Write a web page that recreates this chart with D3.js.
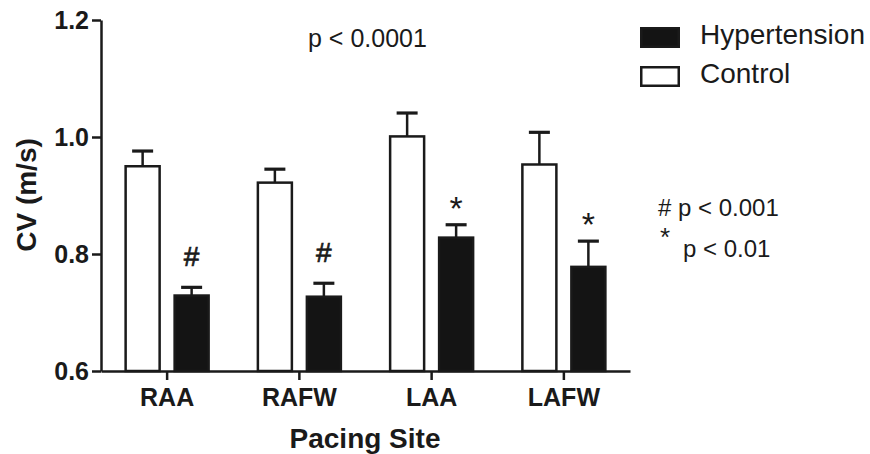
<!DOCTYPE html>
<html>
<head>
<meta charset="utf-8">
<script src="https://cdn.jsdelivr.net/npm/d3@7"></script>
<style>
  html, body { margin: 0; padding: 0; background: #fff; }
  svg { display: block; font-family: "Liberation Sans", Arial, Helvetica, sans-serif; }
</style>
</head>
<body>
<svg id="chart" width="870" height="454"></svg>
<script>
// Conduction velocity by pacing site
const categories = ["RAA", "RAFW", "LAA", "LAFW"];
const seriesNames = ["Control", "Hypertension"];
const controlMean = [0.950, 0.922, 1.001, 0.953];
const controlErr  = [0.026, 0.023, 0.040, 0.055];
const hyperMean   = [0.729, 0.727, 0.828, 0.778];
const hyperErr    = [0.014, 0.023, 0.022, 0.044];
const sigMarks    = ["#", "#", "*", "*"];
const yTicks      = [0.6, 0.8, 1.0, 1.2];
const legendItems = ["Hypertension", "Control"];

const ink = "#1a1a1a";
const svg = d3.select("#chart");

const x = d3.scaleBand().domain(categories).range([101, 630]).padding(0);
const sub = d3.scaleBand().domain(seriesNames).range([-41.5, 41.5])
  .paddingInner(0.306).paddingOuter(0);
const y = d3.scaleLinear().domain([0.6, 1.2]).range([371, 20]);

const rows = categories.map((c, i) => ({
  cat: c,
  bars: [
    { s: "Control", v: controlMean[i], e: controlErr[i] },
    { s: "Hypertension", v: hyperMean[i], e: hyperErr[i], mark: sigMarks[i] }
  ]
}));

// bars
const groups = svg.selectAll("g.grp").data(rows).join("g")
  .attr("class", "grp")
  .attr("transform", d => `translate(${x(d.cat) + x.bandwidth() / 2},0)`);

const bar = groups.selectAll("g.bar").data(d => d.bars).join("g").attr("class", "bar");
const mid = d => sub(d.s) + sub.bandwidth() / 2;

// error bars (upper only)
bar.append("line")
  .attr("x1", mid).attr("x2", mid)
  .attr("y1", d => y(d.v))
  .attr("y2", d => y(d.v + d.e))
  .attr("stroke", ink).attr("stroke-width", 2.5);
bar.append("line")
  .attr("x1", d => mid(d) - 10.5)
  .attr("x2", d => mid(d) + 10.5)
  .attr("y1", d => y(d.v + d.e))
  .attr("y2", d => y(d.v + d.e))
  .attr("stroke", ink).attr("stroke-width", 3.2);

bar.append("rect")
  .attr("x", d => sub(d.s))
  .attr("width", sub.bandwidth())
  .attr("y", d => y(d.v))
  .attr("height", d => y(0.6) - y(d.v))
  .attr("fill", d => d.s === "Control" ? "#fff" : "#141414")
  .attr("stroke", ink).attr("stroke-width", 2.5);

// significance marks above hypertension bars
bar.filter(d => d.mark)
  .append("text")
  .attr("x", mid)
  .attr("y", d => y(d.v + d.e) - (d.mark === "#" ? 21 : 5))
  .attr("text-anchor", "middle")
  .attr("font-size", d => d.mark === "#" ? 28 : 34)
  .attr("fill", ink)
  .attr("stroke", ink).attr("stroke-width", d => d.mark === "#" ? 0.7 : 0)
  .text(d => d.mark);

// axes
const yAxis = svg.append("g").attr("transform", "translate(101,0)")
  .call(d3.axisLeft(y).tickValues(yTicks).tickFormat(d3.format(".1f")).tickSize(9).tickSizeOuter(0).tickPadding(3));
const xAxis = svg.append("g").attr("transform", "translate(0,371)")
  .call(d3.axisBottom(x).tickSize(9).tickSizeOuter(0).tickPadding(8));

[yAxis, xAxis].forEach(a => {
  a.select(".domain").attr("stroke", ink).attr("stroke-width", 2.5);
  a.selectAll(".tick line").attr("stroke", ink).attr("stroke-width", 2.5);
  a.selectAll("text").attr("fill", ink).attr("font-weight", "bold")
    .attr("font-family", "Liberation Sans, Arial, sans-serif");
});
yAxis.selectAll("text").attr("font-size", 25);
xAxis.selectAll("text").attr("font-size", 25).attr("dy", "0.72em");

// axis titles
svg.append("text")
  .attr("transform", "translate(36,195) rotate(-90)")
  .attr("text-anchor", "middle")
  .attr("font-size", 28).attr("font-weight", "bold").attr("fill", ink)
  .text("CV (m/s)");
svg.append("text")
  .attr("x", 365).attr("y", 448)
  .attr("text-anchor", "middle")
  .attr("font-size", 28).attr("font-weight", "bold").attr("fill", ink)
  .text("Pacing Site");

// overall p value
svg.append("text")
  .attr("x", 308).attr("y", 47)
  .attr("font-size", 25).attr("fill", ink)
  .text("p < 0.0001");

// legend
const leg = svg.selectAll("g.leg").data(legendItems).join("g")
  .attr("class", "leg")
  .attr("transform", (d, i) => `translate(640,${27 + i * 39})`);
leg.append("rect")
  .attr("x", 1.25).attr("y", 1.25)
  .attr("width", 37.5).attr("height", 18.5)
  .attr("fill", d => d === "Hypertension" ? "#141414" : "#fff")
  .attr("stroke", ink).attr("stroke-width", 2.5);
leg.append("text")
  .attr("x", 60).attr("y", 17)
  .attr("font-size", 28).attr("fill", ink)
  .text(d => d);

// significance key
const key = svg.append("text").attr("fill", ink).attr("font-size", 24);
key.append("tspan").attr("x", 658).attr("y", 216).text("# p < 0.001");
key.append("tspan").attr("x", 660).attr("y", 246).attr("font-size", 26).text("*");
key.append("tspan").attr("x", 683).attr("y", 257).text("p < 0.01");
</script>
</body>
</html>
